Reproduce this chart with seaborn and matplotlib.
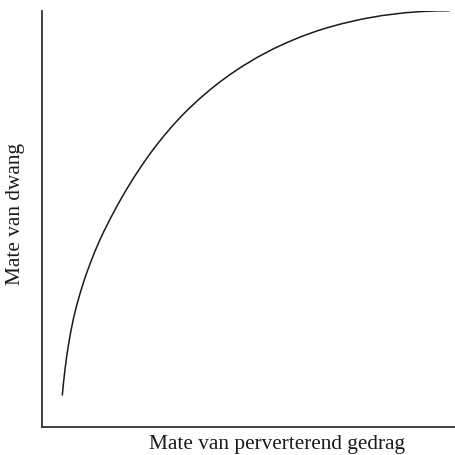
import matplotlib
matplotlib.use("Agg")
import matplotlib.pyplot as plt
import seaborn as sns
import pandas as pd

# Values (arbitrary units: 0..414 horizontally, 0..416 vertically)
perversion = [20.3, 21.65, 23.0, 24.65, 26.5, 28.8, 31.5, 34.65, 38.0, 41.5, 44.7, 48.5,
              53.0, 57.5, 62.0, 68.0, 74.0, 80.0, 85.0, 92.0, 100.0, 107.0, 114.0,
              122.0, 131.0, 140.0, 148.0, 158.0, 168.0, 178.0, 188.0, 200.0, 215.0,
              231.0, 245.0, 260.0, 275.0, 285.0, 300.0, 320.0, 340.0, 363.0, 380.0,
              395.0, 407.3]
coercion = [32.0, 45.66, 57.64, 70.26, 82.43, 95.53, 108.63, 121.52, 133.36, 144.68,
            154.09, 164.41, 175.80, 186.30, 195.90, 207.80, 219.12, 229.86, 238.37,
            249.68, 261.85, 271.83, 281.21, 291.26, 301.78, 311.50, 319.44, 328.65,
            337.22, 345.15, 352.44, 360.46, 369.51, 377.98, 384.50, 390.70, 396.08,
            399.20, 403.32, 407.91, 411.45, 414.24, 415.50, 416.11, 416.27]
x_label = "Mate van perverterend gedrag"
y_label = "Mate van dwang"

df = pd.DataFrame({"x": perversion, "y": coercion})

sns.set_style("white")
plt.rcParams["font.family"] = ["Liberation Serif", "DejaVu Serif"]

fig = plt.figure(figsize=(4.56, 4.56), dpi=100)
ax = fig.add_axes([42 / 456, 28 / 456, 414 / 456, 416 / 456])
sns.lineplot(data=df, x="x", y="y", sort=False, color="#1a1a1a", linewidth=1.1, ax=ax)
ax.set_xlim(0, 414)
ax.set_ylim(0, 416)
ax.set_xticks([])
ax.set_yticks([])
ax.set_xlabel("")
ax.set_ylabel("")
for s in ["top", "right"]:
    ax.spines[s].set_visible(False)
for s in ["left", "bottom"]:
    ax.spines[s].set_color("#333333")
    ax.spines[s].set_linewidth(1.3)

fig.text(277 / 456, 1 - 445 / 456, x_label, ha="center", va="center", fontsize=15.3, color="#1a1a1a")
fig.text(16 / 456, 1 - 214 / 456, y_label, ha="center", va="center", rotation=90, fontsize=15.3, color="#1a1a1a")

fig.savefig("out.png", dpi=100)
